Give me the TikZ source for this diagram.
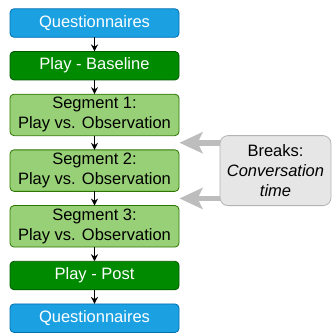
\documentclass[tikz,border=0pt]{standalone}
\usepackage{fontspec}
\setmainfont{Liberation Sans}
\usetikzlibrary{positioning,arrows.meta,calc}

\definecolor{qblue}{HTML}{1BA1E2}
\definecolor{qblueline}{HTML}{006EAF}
\definecolor{playgreen}{HTML}{008A00}
\definecolor{playgreenline}{HTML}{005700}
\definecolor{seggreen}{HTML}{97D077}
\definecolor{seggreenline}{HTML}{2D7600}
\definecolor{breakfill}{HTML}{E6E6E6}
\definecolor{breakline}{HTML}{B3B3B3}
\definecolor{breakarrow}{HTML}{BDBDBD}

\begin{document}
\begin{tikzpicture}[node distance=14.2pt, font=\fontsize{16.5}{20}\selectfont]
    \tikzstyle{stage}=[rectangle,rounded corners=4pt,line width=0.8pt,minimum width=169pt,inner sep=2pt,outer sep=0pt,align=center]
    \tikzstyle{quest stage}=[stage, fill=qblue, draw=qblueline, text=white, minimum height=28.5pt];
    \tikzstyle{play stage}=[stage, fill=playgreen, draw=playgreenline, text=white, minimum height=28.5pt];
    \tikzstyle{seg stage}=[stage, fill=seggreen, draw=seggreenline, text=black, minimum height=41.5pt];
    \tikzstyle{breaks}=[stage, fill=breakfill, draw=breakline, minimum width=111pt, minimum height=70pt, rounded corners=8pt]
    \tikzstyle{flow}=[->, >={Stealth[length=7pt,width=7pt]}, line width=1.2pt, black]
    \tikzstyle{break arrow}=[-{Stealth[length=23pt,width=21pt,inset=5pt]}, line width=5.5pt, draw=breakarrow, shorten >=0.5pt]

    \useasboundingbox (0,0) rectangle (332pt,-333pt);

    % Stages from top to bottom
    \node[quest stage] (q-1) at (94.5pt,-23pt) {Questionnaires};
    \node[play stage, below=of q-1] (base) {Play - Baseline};
    \node[seg stage, below=of base] (seg-1) {Segment 1:\\Play vs. Observation};
    \node[seg stage, below=of seg-1] (seg-2) {Segment 2:\\Play vs. Observation};
    \node[seg stage, below=of seg-2] (seg-3) {Segment 3:\\Play vs. Observation};
    \node[play stage, below=of seg-3] (post) {Play - Post};
    \node[quest stage, below=of post] (q-2) {Questionnaires};

    % Connect each stage with the next one
    \foreach \source / \dest in {q-1/base, base/seg-1, seg-1/seg-2, seg-2/seg-3, seg-3/post, post/q-2}
        \draw[flow] (\source) -- (\dest);

    % Breaks between the segments
    \node[breaks, right=41pt of seg-2] (brk) {Breaks:\\\textit{Conversation}\\\textit{time}};
    \coordinate (gap-1) at ($(seg-1.south)!0.5!(seg-2.north)$);
    \coordinate (gap-2) at ($(seg-2.south)!0.5!(seg-3.north)$);
    \foreach \gap in {gap-1, gap-2}
        \draw[break arrow] (brk.west |- \gap) -- (seg-1.east |- \gap);
\end{tikzpicture}
\end{document}
